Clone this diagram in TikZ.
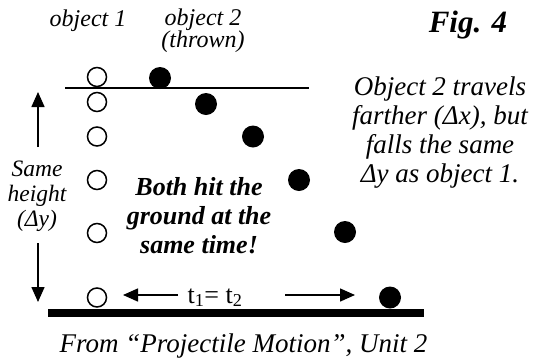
\documentclass[tikz,border=0pt]{standalone}
\usepackage{fontspec}
\setmainfont{Liberation Serif}
\usetikzlibrary{arrows.meta}
\tikzset{
  openball/.style={circle,draw,line width=1.5pt,minimum size=19pt,inner sep=0pt},
  fullball/.style={circle,fill,minimum size=22pt,inner sep=0pt},
  lbl/.style={font=\fontsize{27}{29}\selectfont\itshape,inner sep=0pt,anchor=base,align=center},
  toplbl/.style={font=\fontsize{24}{22}\selectfont\itshape,inner sep=0pt,anchor=base,align=center},
  blbl/.style={font=\fontsize{26}{29}\selectfont\bfseries\itshape,inner sep=0pt,anchor=base,align=center},
  arr/.style={line width=1.5pt,-{Triangle[length=15pt,width=13pt]}},
}
\begin{document}
\begin{tikzpicture}[x=1pt,y=-1pt]
\useasboundingbox (0,0) rectangle (533,357);
% lines
\coordinate (tl) at (65,88); \coordinate (tr) at (309,88);
\draw[line width=2pt] (tl) -- (tr);
\coordinate (gl) at (48,312.5); \coordinate (gr) at (424,312.5);
\draw[line width=8pt] (gl) -- (gr);
% object 1
\node[openball] (o1) at (97,77) {};
\node[openball] (o2) at (97,102) {};
\node[openball] (o3) at (97,136.5) {};
\node[openball] (o4) at (97,180) {};
\node[openball] (o5) at (97,233) {};
\node[openball] (o6) at (97,297.5) {};
% object 2
\node[fullball] (f1) at (160,78) {};
\node[fullball] (f2) at (206,104) {};
\node[fullball] (f3) at (253,136.5) {};
\node[fullball] (f4) at (299,180) {};
\node[fullball] (f5) at (345,232) {};
\node[fullball] (f6) at (390,297.5) {};
% labels
\node[toplbl] (obj1) at (88,26) {object 1};
\node[toplbl] (obj2) at (203,47) {object 2\\(thrown)};
\node[font=\fontsize{31}{34}\selectfont\bfseries\itshape,inner sep=0pt,anchor=base] (fig) at (468,32) {Fig. 4};
\node[lbl] (right) at (440,182) {Object 2 travels\\farther (Δx), but\\falls the same\\Δy as object 1.};
\node[blbl] (both) at (199,253) {Both hit the\\ground at the\\same time!};
\node[font=\fontsize{23.5}{25}\selectfont\itshape,inner sep=0pt,anchor=base,align=center] (same) at (37,226) {Same\\height\\(Δy)};
\node[font=\fontsize{26}{28}\selectfont,inner sep=0pt,anchor=base] (tt) at (215,303) {t\textsubscript{1}= t\textsubscript{2}};
\node[lbl] (from) at (243.5,352) {From “Projectile Motion”, Unit 2};
% vertical arrows
\coordinate (ua) at (38,147); \coordinate (ub) at (38,92);
\draw[arr] (ua) -- (ub);
\coordinate (da) at (38,243); \coordinate (db) at (38,302);
\draw[arr] (da) -- (db);
% horizontal arrows
\coordinate (la) at (178,295); \coordinate (lb) at (123,295);
\draw[arr] (la) -- (lb);
\coordinate (ra) at (285,295); \coordinate (rb) at (355,295);
\draw[arr] (ra) -- (rb);
\end{tikzpicture}
\end{document}
